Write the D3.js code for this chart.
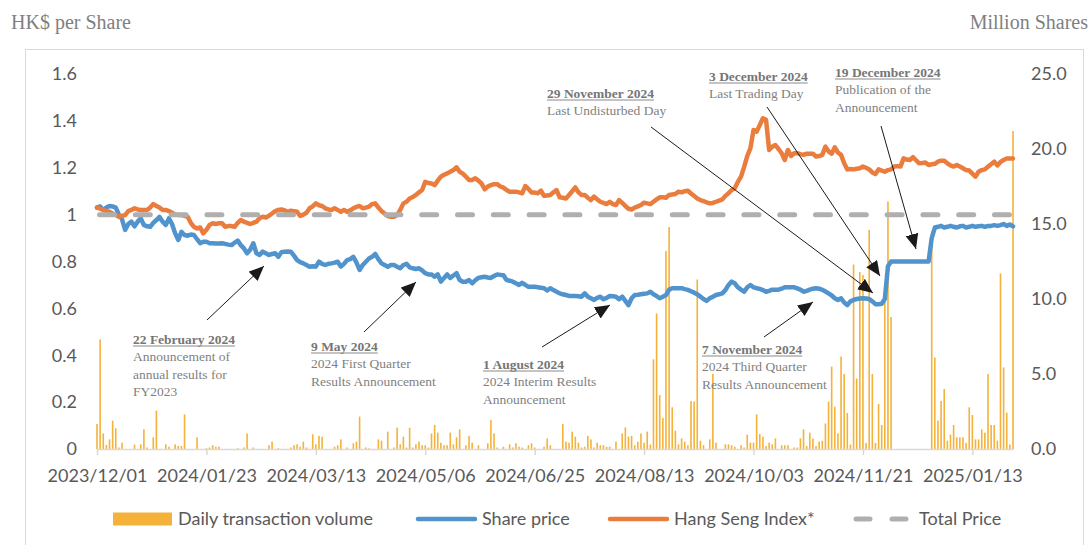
<!DOCTYPE html>
<html>
<head>
<meta charset="utf-8">
<script src="https://cdn.jsdelivr.net/npm/d3@7"></script>
<style>
  body { margin: 0; background: #fff; }
  #chart { width: 1091px; height: 545px; }
</style>
</head>
<body>
<div id="chart"></div>
<script>
// tick labels on the category axis, one label every 35 trading days
var tickLabels = ["2023/12/01", "2024/01/23", "2024/03/13", "2024/05/06", "2024/06/25",
                  "2024/08/13", "2024/10/03", "2024/11/21", "2025/01/13"];
var tickIndex = [0, 35, 70, 105, 140, 175, 210, 245, 280];

// daily transaction volume, million shares (right axis)
var dailyVolume = [
  1.67, 7.3, 1.04, 0.27, 0.64, 1.89, 1.38, 0.1, 0.42, 0,
  0, 0, 0.29, 0, 0.31, 1.31, 0.1, 0, 0.78, 2.56,
  0, 0, 0.31, 0.15, 0, 0.31, 0.2, 0.2, 2.31, 0,
  0, 0, 0.78, 0, 0, 0.05, 0.1, 0.25, 0.15, 0.15,
  0, 0, 0, 0, 0, 0.05, 0, 0.1, 1.04, 0,
  0.1, 0, 0, 0, 0, 0.25, 0.49, 0, 0.05, 0,
  0, 0, 0.1, 0.25, 0.31, 0.15, 0.49, 0.1, 0, 0.98,
  0.31, 0.87, 0.82, 0, 0, 0, 0.15, 0.25, 0.64, 0,
  0.1, 0, 0.38, 0.49, 2.16, 0, 0.1, 0.05, 0, 0,
  0.64, 0.55, 0, 1.16, 0, 0.1, 1.42, 0.31, 0.82, 0.1,
  1.42, 0.1, 0.31, 0.49, 0.25, 0.25, 0.1, 1.04, 1.6, 1.09,
  0.42, 0.25, 0.25, 1.09, 0.31, 0.78, 1.31, 0, 0.25, 0.87,
  0.42, 0, 0.25, 0, 0, 0.38, 1.93, 1.04, 0.1, 0,
  0.15, 0, 0.31, 0.1, 0.38, 0.15, 0.1, 0, 0.25, 0.38,
  0.1, 0, 0, 0.15, 0.71, 0.25, 0, 0, 0, 1.67,
  0.49, 0.42, 1.16, 0.82, 0.42, 0.1, 0.15, 0.87, 0.64, 0.1,
  0.42, 0.25, 0.25, 0.15, 0.15, 0, 0.49, 0, 1.04, 1.44,
  0.82, 0.87, 0.25, 0.49, 1.04, 0.42, 1.16, 0.3, 5.98, 9.04,
  3.6, 2.07, 13.2, 14.8, 2.78, 1.22, 0.31, 0.71, 0.49, 0.25,
  3.2, 3.16, 11.3, 0.55, 0.25, 0, 0.64, 5.0, 0.42, 0,
  0, 0.31, 0.31, 0.25, 0.15, 0, 0.25, 0.1, 0.96, 0.42,
  0.42, 2.3, 1.0, 0.82, 0.2, 0.42, 0.31, 0.71, 0, 0.25,
  0.25, 0.25, 0, 0.1, 0.1, 0.71, 1.31, 0.2, 1.09, 0.7,
  0.2, 0.5, 0.55, 1.7, 3.16, 5.49, 2.82, 1.04, 6.16, 5.0,
  2.4, 0.3, 12.3, 4.7, 11.8, 11.6, 0.4, 14.6, 5.0, 0.4,
  3.0, 1.6, 10.8, 16.5, 8.8, 0, 0, 0, 0, 0,
  0, 0, 0, 0, 0, 0, 0, 14.5, 6.1, 1.9,
  3.2, 4.0, 0.55, 0.96, 1.6, 0.78, 0.78, 0.78, 0.4, 2.78,
  2.27, 0.64, 0.64, 1.31, 1.09, 5.0, 1.6, 1.6, 0.55, 11.7,
  5.44, 2.42, 0.3, 21.2
];

// share price, HK$ (left axis)
var sharePrice = [
  1.03, 1.035, 1.02, 1.03, 1.037, 1.035, 1.03, 1.0, 0.98, 0.935,
  0.96, 0.97, 0.95, 0.97, 0.984, 0.956, 0.95, 0.948, 0.965, 0.977,
  0.99, 0.97, 0.956, 0.984, 0.96, 0.92, 0.892, 0.927, 0.913, 0.91,
  0.915, 0.913, 0.895, 0.878, 0.884, 0.884, 0.878, 0.878, 0.877, 0.877,
  0.878, 0.875, 0.872, 0.87, 0.88, 0.889, 0.87, 0.856, 0.835, 0.85,
  0.878, 0.835, 0.828, 0.842, 0.835, 0.828, 0.832, 0.835, 0.82, 0.84,
  0.842, 0.843, 0.842, 0.825, 0.806, 0.797, 0.792, 0.785, 0.778, 0.78,
  0.778, 0.799, 0.79, 0.785, 0.79, 0.792, 0.795, 0.799, 0.778, 0.79,
  0.806, 0.81, 0.82, 0.795, 0.764, 0.785, 0.799, 0.813, 0.82, 0.832,
  0.81, 0.792, 0.785, 0.778, 0.785, 0.785, 0.778, 0.771, 0.785, 0.79,
  0.775, 0.771, 0.768, 0.771, 0.762, 0.75, 0.745, 0.745, 0.735, 0.745,
  0.714, 0.73, 0.745, 0.73, 0.74, 0.75, 0.721, 0.714, 0.714, 0.721,
  0.707, 0.72, 0.73, 0.733, 0.735, 0.732, 0.73, 0.738, 0.745, 0.743,
  0.741, 0.721, 0.718, 0.714, 0.707, 0.7, 0.709, 0.7, 0.692, 0.692,
  0.692, 0.69, 0.688, 0.686, 0.676, 0.686, 0.678, 0.671, 0.664, 0.66,
  0.657, 0.653, 0.653, 0.653, 0.652, 0.65, 0.664, 0.65, 0.643, 0.636,
  0.645, 0.65, 0.639, 0.645, 0.653, 0.652, 0.65, 0.639, 0.65, 0.632,
  0.614, 0.643, 0.657, 0.658, 0.66, 0.662, 0.664, 0.671, 0.66, 0.653,
  0.643, 0.65, 0.657, 0.68, 0.686, 0.686, 0.686, 0.686, 0.682, 0.679,
  0.673, 0.667, 0.66, 0.65, 0.64, 0.632, 0.643, 0.65, 0.657, 0.66,
  0.664, 0.678, 0.7, 0.714, 0.707, 0.69, 0.68, 0.671, 0.69, 0.7,
  0.69, 0.686, 0.683, 0.678, 0.671, 0.675, 0.68, 0.68, 0.68, 0.684,
  0.69, 0.69, 0.69, 0.69, 0.685, 0.68, 0.671, 0.675, 0.68, 0.684,
  0.686, 0.684, 0.679, 0.672, 0.664, 0.655, 0.643, 0.636, 0.643, 0.625,
  0.614, 0.63, 0.636, 0.64, 0.642, 0.643, 0.642, 0.64, 0.63, 0.618,
  0.618, 0.62, 0.64, 0.78, 0.8, 0.8, 0.8, 0.8, 0.8, 0.8,
  0.8, 0.8, 0.8, 0.8, 0.8, 0.8, 0.8, 0.9, 0.945, 0.948,
  0.952, 0.945, 0.948, 0.952, 0.948, 0.945, 0.95, 0.952, 0.945, 0.948,
  0.952, 0.948, 0.95, 0.952, 0.948, 0.952, 0.952, 0.955, 0.952, 0.955,
  0.96, 0.952, 0.958, 0.95
];

// Hang Seng Index, rebased (left axis)
var hangSeng = [
  1.031, 1.025, 1.02, 1.015, 1.012, 1.005, 0.998, 0.991, 0.995, 0.998,
  1.015, 1.02, 1.027, 1.022, 1.02, 1.02, 1.02, 1.03, 1.045, 1.037,
  1.03, 1.02, 1.02, 1.015, 1.008, 1.0, 0.998, 0.998, 0.995, 0.991,
  0.965, 0.948, 0.941, 0.945, 0.92, 0.935, 0.956, 0.963, 0.96, 0.963,
  0.963, 0.948, 0.951, 0.951, 0.948, 0.965, 0.977, 0.97, 0.965, 0.96,
  0.965, 0.97, 0.985, 0.991, 0.988, 0.995, 1.005, 1.015, 1.02, 1.022,
  1.018, 1.012, 1.017, 1.015, 1.012, 0.994, 1.0, 1.008, 1.027, 1.035,
  1.048, 1.04, 1.037, 1.027, 1.022, 1.02, 1.027, 1.02, 1.012, 1.02,
  1.012, 1.018, 1.027, 1.033, 1.037, 1.027, 1.03, 1.034, 1.045, 1.048,
  1.03, 1.015, 1.005, 0.994, 0.991, 0.991, 0.998, 1.02, 1.048, 1.055,
  1.069, 1.075, 1.084, 1.095, 1.105, 1.14, 1.135, 1.133, 1.126, 1.145,
  1.162, 1.17, 1.176, 1.183, 1.19, 1.202, 1.183, 1.175, 1.162, 1.148,
  1.148, 1.155, 1.145, 1.133, 1.108, 1.12, 1.126, 1.13, 1.13, 1.12,
  1.115, 1.105, 1.098, 1.098, 1.098, 1.095, 1.091, 1.122, 1.11, 1.094,
  1.094, 1.091, 1.102, 1.08, 1.082, 1.084, 1.095, 1.105, 1.074, 1.072,
  1.069, 1.084, 1.1, 1.116, 1.095, 1.084, 1.084, 1.072, 1.062, 1.077,
  1.065, 1.055, 1.05, 1.045, 1.055, 1.045, 1.041, 1.062, 1.05, 1.037,
  1.025, 1.022, 1.03, 1.035, 1.041, 1.051, 1.048, 1.045, 1.055, 1.065,
  1.074, 1.074, 1.072, 1.084, 1.086, 1.088, 1.098, 1.095, 1.1, 1.102,
  1.09, 1.08, 1.069, 1.062, 1.058, 1.052, 1.048, 1.05, 1.055, 1.06,
  1.065, 1.08, 1.091, 1.105, 1.112, 1.14, 1.162, 1.204, 1.25, 1.283,
  1.361, 1.354, 1.382, 1.411, 1.405, 1.276, 1.29, 1.297, 1.28, 1.262,
  1.233, 1.276, 1.25, 1.262, 1.262, 1.258, 1.255, 1.26, 1.26, 1.26,
  1.248, 1.25, 1.255, 1.29, 1.27, 1.26, 1.287, 1.265, 1.255, 1.219,
  1.193, 1.195, 1.193, 1.196, 1.198, 1.205, 1.2, 1.193, 1.18, 1.173,
  1.193, 1.188, 1.183, 1.19, 1.193, 1.205, 1.207, 1.205, 1.24, 1.235,
  1.233, 1.245, 1.232, 1.219, 1.22, 1.222, 1.212, 1.215, 1.217, 1.226,
  1.23, 1.23, 1.219, 1.21, 1.205, 1.212, 1.205, 1.198, 1.19, 1.188,
  1.175, 1.162, 1.183, 1.19, 1.193, 1.205, 1.215, 1.226, 1.21, 1.225,
  1.233, 1.24, 1.24, 1.24
];

var totalPrice = 1.0;
var leftTicks = [0, 0.2, 0.4, 0.6, 0.8, 1, 1.2, 1.4, 1.6];
var rightTicks = [0, 5, 10, 15, 20, 25];

// callouts: label block position and arrow (from -> to), page pixels
var notes = [
  { date: "22 February 2024", lines: ["Announcement of", "annual results for", "FY2023"], x: 133, y: 339, from: [207, 320], to: [264, 266] },
  { date: "9 May 2024", lines: ["2024 First Quarter", "Results Announcement"], x: 311, y: 346, from: [364, 332], to: [416, 282] },
  { date: "1 August 2024", lines: ["2024 Interim Results", "Announcement"], x: 483, y: 364, from: [542, 347], to: [610, 305] },
  { date: "7 November 2024", lines: ["2024 Third Quarter", "Results Announcement"], x: 702, y: 349, from: [764, 337], to: [813, 302] },
  { date: "29 November 2024", lines: ["Last Undisturbed Day"], x: 547, y: 93, from: [651, 127], to: [873, 293] },
  { date: "3 December 2024", lines: ["Last Trading Day"], x: 709, y: 76, from: [767, 107], to: [880, 276] },
  { date: "19 December 2024", lines: ["Publication of the", "Announcement"], x: 835, y: 72, from: [881, 126], to: [916, 249] }
];

var sans = "Lato, 'Open Sans', sans-serif";
var serif = "'Liberation Serif', 'Times New Roman', serif";
var axisGrey = "#595959";

var width = 1091, height = 545;
var plot = { left: 97, right: 1013, top: 74, bottom: 449 };

var svg = d3.select("#chart")
  .append("svg")
  .attr("width", width)
  .attr("height", height)
  .style("display", "block");

// chart frame
svg.append("rect")
  .attr("x", 25.5).attr("y", 49.5)
  .attr("width", 1058).attr("height", 520)
  .attr("fill", "none")
  .attr("stroke", "#d9d9d9")
  .attr("stroke-width", 1);

var n = sharePrice.length;
var x = d3.scalePoint().domain(d3.range(n)).range([plot.left, plot.right]);
var yLeft = d3.scaleLinear().domain([0, 1.6]).range([plot.bottom, plot.top]);
var yRight = d3.scaleLinear().domain([0, 25]).range([plot.bottom, plot.top]);

// axis titles
svg.append("text")
  .attr("x", 11).attr("y", 29)
  .attr("font-family", serif).attr("font-size", 20)
  .attr("fill", "#7f7f7f")
  .text("HK$ per Share");
svg.append("text")
  .attr("x", 1088).attr("y", 29)
  .attr("text-anchor", "end")
  .attr("font-family", serif).attr("font-size", 20)
  .attr("fill", "#7f7f7f")
  .text("Million Shares");

// volume bars
svg.append("g")
  .selectAll("rect")
  .data(dailyVolume)
  .enter()
  .append("rect")
  .attr("x", function(d, i) { return x(i) - 0.8; })
  .attr("width", 1.6)
  .attr("y", function(d) { return yRight(d); })
  .attr("height", function(d) { return yRight(0) - yRight(d); })
  .attr("fill", "#F4B23A");

// axes
var xAxis = d3.axisBottom(x)
  .tickValues(tickIndex)
  .tickFormat(function(d, i) { return tickLabels[i]; })
  .tickSize(6)
  .tickSizeOuter(0)
  .tickPadding(14);
var gx = svg.append("g")
  .attr("transform", "translate(0," + plot.bottom + ")")
  .call(xAxis);
gx.select(".domain").attr("stroke", "#d9d9d9").attr("stroke-width", 1.5);
gx.selectAll(".tick line").attr("stroke", "#d9d9d9").attr("stroke-width", 1.5);
gx.selectAll(".tick text").attr("font-family", sans).attr("font-size", 18).attr("fill", axisGrey);

var gl = svg.append("g")
  .attr("transform", "translate(" + plot.left + ",0)")
  .call(d3.axisLeft(yLeft).tickValues(leftTicks).tickFormat(d3.format("~g")).tickSize(0).tickPadding(20));
gl.select(".domain").remove();
gl.selectAll(".tick text").attr("font-family", sans).attr("font-size", 18).attr("fill", axisGrey);

var gr = svg.append("g")
  .attr("transform", "translate(" + plot.right + ",0)")
  .call(d3.axisRight(yRight).tickValues(rightTicks).tickFormat(d3.format(".1f")).tickSize(0).tickPadding(18));
gr.select(".domain").remove();
gr.selectAll(".tick text").attr("font-family", sans).attr("font-size", 18).attr("fill", axisGrey);

// lines
var line = d3.line()
  .x(function(d, i) { return x(i); })
  .y(function(d) { return yLeft(d); });

svg.append("path")
  .datum(sharePrice)
  .attr("d", line)
  .attr("fill", "none")
  .attr("stroke", "#5193CC")
  .attr("stroke-width", 4.5)
  .attr("stroke-linejoin", "round")
  .attr("stroke-linecap", "round");

svg.append("path")
  .datum(hangSeng)
  .attr("d", line)
  .attr("fill", "none")
  .attr("stroke", "#EA7D3E")
  .attr("stroke-width", 4.5)
  .attr("stroke-linejoin", "round")
  .attr("stroke-linecap", "round");

svg.append("line")
  .attr("x1", x(0)).attr("x2", x(n - 1))
  .attr("y1", yLeft(totalPrice)).attr("y2", yLeft(totalPrice))
  .attr("stroke", "#AFAFAF")
  .attr("stroke-width", 5)
  .attr("stroke-linecap", "round")
  .attr("stroke-dasharray", "15,20.8")
  .attr("stroke-dashoffset", -2.5);

// callouts
svg.append("defs").append("marker")
  .attr("id", "head")
  .attr("markerUnits", "userSpaceOnUse")
  .attr("markerWidth", 16).attr("markerHeight", 14)
  .attr("refX", 15).attr("refY", 6.5)
  .attr("orient", "auto")
  .append("path")
  .attr("d", "M0,0 L15,6.5 L0,13 Z")
  .attr("fill", "#1a1a1a");

var noteG = svg.append("g");
notes.forEach(function(nt) {
  noteG.append("line")
    .attr("x1", nt.from[0]).attr("y1", nt.from[1])
    .attr("x2", nt.to[0]).attr("y2", nt.to[1])
    .attr("stroke", "#1a1a1a")
    .attr("stroke-width", 1)
    .attr("marker-end", "url(#head)");

  var t = noteG.append("text")
    .attr("x", nt.x).attr("y", nt.y + 4.5)
    .attr("font-family", serif).attr("font-size", 13.5)
    .attr("font-weight", "bold")
    .attr("fill", "#767676")
    .text(nt.date);
  var w = t.node().getComputedTextLength();
  noteG.append("line")
    .attr("x1", nt.x).attr("x2", nt.x + w)
    .attr("y1", nt.y + 7).attr("y2", nt.y + 7)
    .attr("stroke", "#8a8a8a").attr("stroke-width", 1.2);

  nt.lines.forEach(function(s, k) {
    noteG.append("text")
      .attr("x", nt.x).attr("y", nt.y + 4.5 + 17.5 * (k + 1))
      .attr("font-family", serif).attr("font-size", 13.5)
      .attr("fill", "#7f7f7f")
      .text(s);
  });
});

// legend
var lg = svg.append("g").attr("font-family", sans).attr("font-size", 18).attr("fill", axisGrey);
var ly = 519;
lg.append("rect").attr("x", 113).attr("y", ly - 6.5).attr("width", 59).attr("height", 13).attr("fill", "#F4B23A");
lg.append("text").attr("x", 178).attr("y", ly + 6).text("Daily transaction volume");
lg.append("line").attr("x1", 418).attr("x2", 475).attr("y1", ly).attr("y2", ly)
  .attr("stroke", "#5193CC").attr("stroke-width", 4.5).attr("stroke-linecap", "round");
lg.append("text").attr("x", 482).attr("y", ly + 6).text("Share price");
lg.append("line").attr("x1", 610).attr("x2", 667).attr("y1", ly).attr("y2", ly)
  .attr("stroke", "#EA7D3E").attr("stroke-width", 4.5).attr("stroke-linecap", "round");
lg.append("text").attr("x", 674).attr("y", ly + 6).text("Hang Seng Index*");
lg.append("line").attr("x1", 856).attr("x2", 906).attr("y1", ly).attr("y2", ly)
  .attr("stroke", "#AFAFAF").attr("stroke-width", 5).attr("stroke-linecap", "round")
  .attr("stroke-dasharray", "14,22");
lg.append("text").attr("x", 919).attr("y", ly + 6).text("Total Price");
</script>
</body>
</html>
